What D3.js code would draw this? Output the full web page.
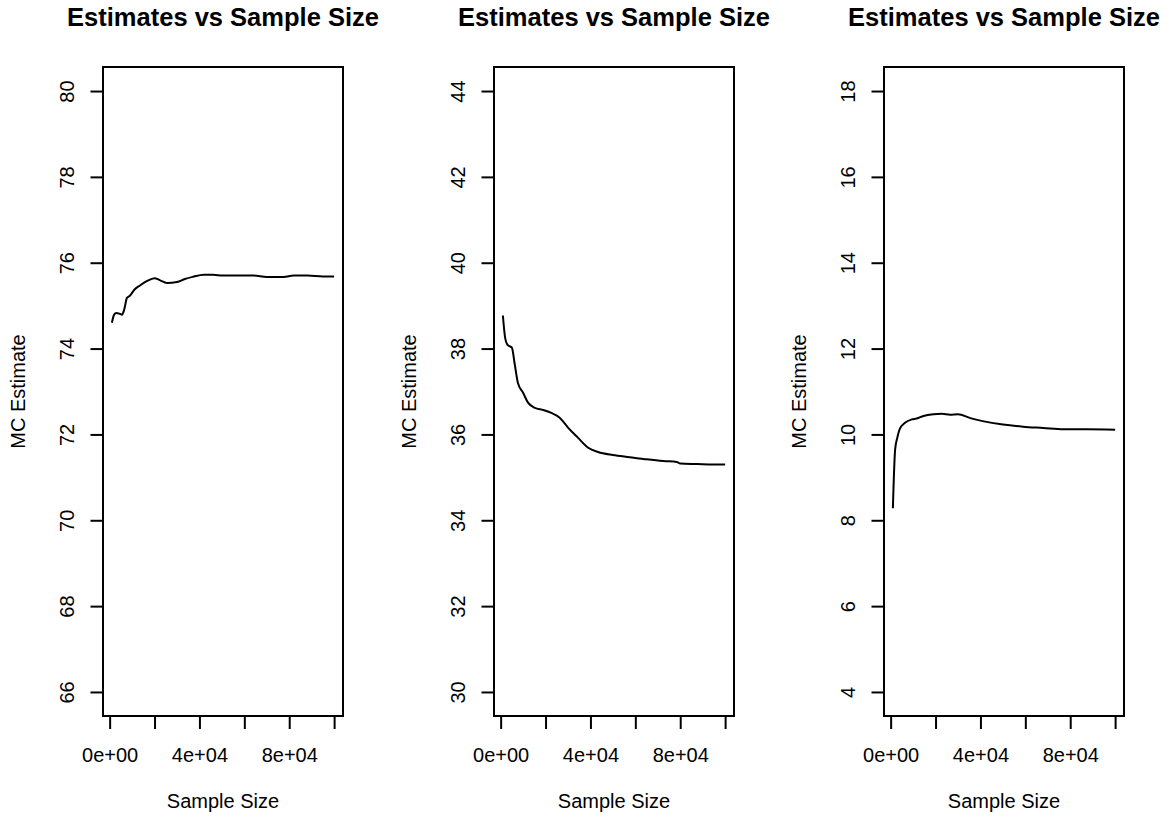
<!DOCTYPE html>
<html>
<head>
<meta charset="utf-8">
<script src="https://cdn.jsdelivr.net/npm/d3@7"></script>
<style>
  body { margin: 0; background: #fff; }
  svg text { font-family: "Liberation Sans", Arial, Helvetica, sans-serif; fill: #000; }
</style>
</head>
<body>
<script>
// sample sizes and running Monte Carlo estimates
var sampleSize1 = [1000, 2000, 3000, 4500, 5500, 6500, 7700, 9000, 11000, 13500, 16500, 20000, 22500, 25500, 30000, 33500, 37000, 42000, 46000, 50500, 58000, 64000, 70000, 77500, 82000, 88000, 95000, 100000];
var estimate1 = [74.60, 74.79, 74.83, 74.81, 74.79, 74.91, 75.18, 75.23, 75.37, 75.47, 75.57, 75.64, 75.59, 75.53, 75.55, 75.62, 75.67, 75.72, 75.72, 75.70, 75.70, 75.70, 75.67, 75.67, 75.70, 75.70, 75.68, 75.68];

var sampleSize2 = [1000, 2000, 3000, 5000, 6300, 7700, 10000, 12200, 15200, 19000, 22600, 26300, 30000, 34500, 39000, 43400, 50000, 57500, 65000, 72500, 78500, 80000, 87500, 95000, 100000];
var estimate2 = [38.77, 38.25, 38.09, 38.02, 37.63, 37.20, 36.97, 36.74, 36.62, 36.57, 36.50, 36.39, 36.16, 35.92, 35.69, 35.59, 35.52, 35.47, 35.42, 35.38, 35.36, 35.32, 35.31, 35.30, 35.30];

var sampleSize3 = [1000, 2000, 3000, 4000, 6400, 9400, 11600, 14600, 19000, 22800, 26500, 30000, 35500, 41000, 50000, 59000, 68000, 77000, 87500, 100000];
var estimate3 = [8.28, 9.65, 9.93, 10.12, 10.27, 10.35, 10.37, 10.43, 10.47, 10.48, 10.46, 10.47, 10.38, 10.31, 10.23, 10.18, 10.15, 10.12, 10.12, 10.11];

var yLimits = [[66, 80], [30, 44], [4, 18]];
var xTicks = [0, 20000, 40000, 60000, 80000, 100000];
var xTickLabels = {0: "0e+00", 40000: "4e+04", 80000: "8e+04"};

var titleText = "Estimates vs Sample Size";
var xLabel = "Sample Size";
var yLabel = "MC Estimate";

var svgWidth = 1176, svgHeight = 816;
var panelLeft = [103, 494, 884];
var boxWidth = 240, boxTop = 67, boxBottom = 716;
var lw = 2;

var svg = d3.select("body").append("svg")
    .attr("width", svgWidth)
    .attr("height", svgHeight);

var series = [
    { x: sampleSize1, y: estimate1 },
    { x: sampleSize2, y: estimate2 },
    { x: sampleSize3, y: estimate3 }
];

series.forEach(function (s, i) {
    var left = panelLeft[i];
    var g = svg.append("g").attr("transform", `translate(${left},0)`);

    // R style 4% padding on the x and y ranges
    var xr = [1000, 100000], xpad = (xr[1] - xr[0]) * 0.04;
    var yl = yLimits[i], ypad = (yl[1] - yl[0]) * 0.04;

    var x = d3.scaleLinear().domain([xr[0] - xpad, xr[1] + xpad]).range([0, boxWidth]);
    var y = d3.scaleLinear().domain([yl[0] - ypad, yl[1] + ypad]).range([boxBottom, boxTop]);

    // x axis
    var xAxis = g.append("g")
        .attr("transform", `translate(0,${boxBottom})`)
        .call(d3.axisBottom(x).tickValues(xTicks).tickSize(13).tickSizeOuter(0)
            .tickFormat(function (d) { return xTickLabels[d] || ""; }));
    xAxis.select(".domain").remove();
    xAxis.selectAll(".tick line").attr("stroke", "#000").attr("stroke-width", lw);
    xAxis.selectAll(".tick text")
        .attr("y", 46).attr("dy", 0)
        .style("font-size", "20px");

    // y axis
    var yAxis = g.append("g")
        .call(d3.axisLeft(y).tickValues(d3.range(yl[0], yl[1] + 1, 2)).tickSize(12.5).tickSizeOuter(0));
    yAxis.select(".domain").remove();
    yAxis.selectAll(".tick line").attr("stroke", "#000").attr("stroke-width", lw);
    yAxis.selectAll(".tick text")
        .attr("x", 0).attr("dy", 0)
        .attr("text-anchor", "middle")
        .attr("transform", "translate(-29,0) rotate(-90)")
        .style("font-size", "20px");

    // line
    var line = d3.line()
        .x(function (d, k) { return x(s.x[k]); })
        .y(function (d) { return y(d); })
        .curve(d3.curveMonotoneX);

    g.append("path")
        .datum(s.y)
        .attr("d", line)
        .attr("fill", "none")
        .attr("stroke", "#000")
        .attr("stroke-width", lw)
        .attr("stroke-linejoin", "round");

    // box
    g.append("rect")
        .attr("x", 0).attr("y", boxTop)
        .attr("width", boxWidth).attr("height", boxBottom - boxTop)
        .attr("fill", "none")
        .attr("stroke", "#000")
        .attr("stroke-width", lw);

    // titles
    g.append("text")
        .attr("x", boxWidth / 2).attr("y", 26)
        .attr("text-anchor", "middle")
        .style("font-size", "25.5px")
        .style("font-weight", "bold")
        .text(titleText);

    g.append("text")
        .attr("x", boxWidth / 2).attr("y", 808)
        .attr("text-anchor", "middle")
        .style("font-size", "20px")
        .text(xLabel);

    g.append("text")
        .attr("transform", `translate(-78,${(boxTop + boxBottom) / 2}) rotate(-90)`)
        .attr("text-anchor", "middle")
        .style("font-size", "20px")
        .text(yLabel);
});
</script>
</body>
</html>
